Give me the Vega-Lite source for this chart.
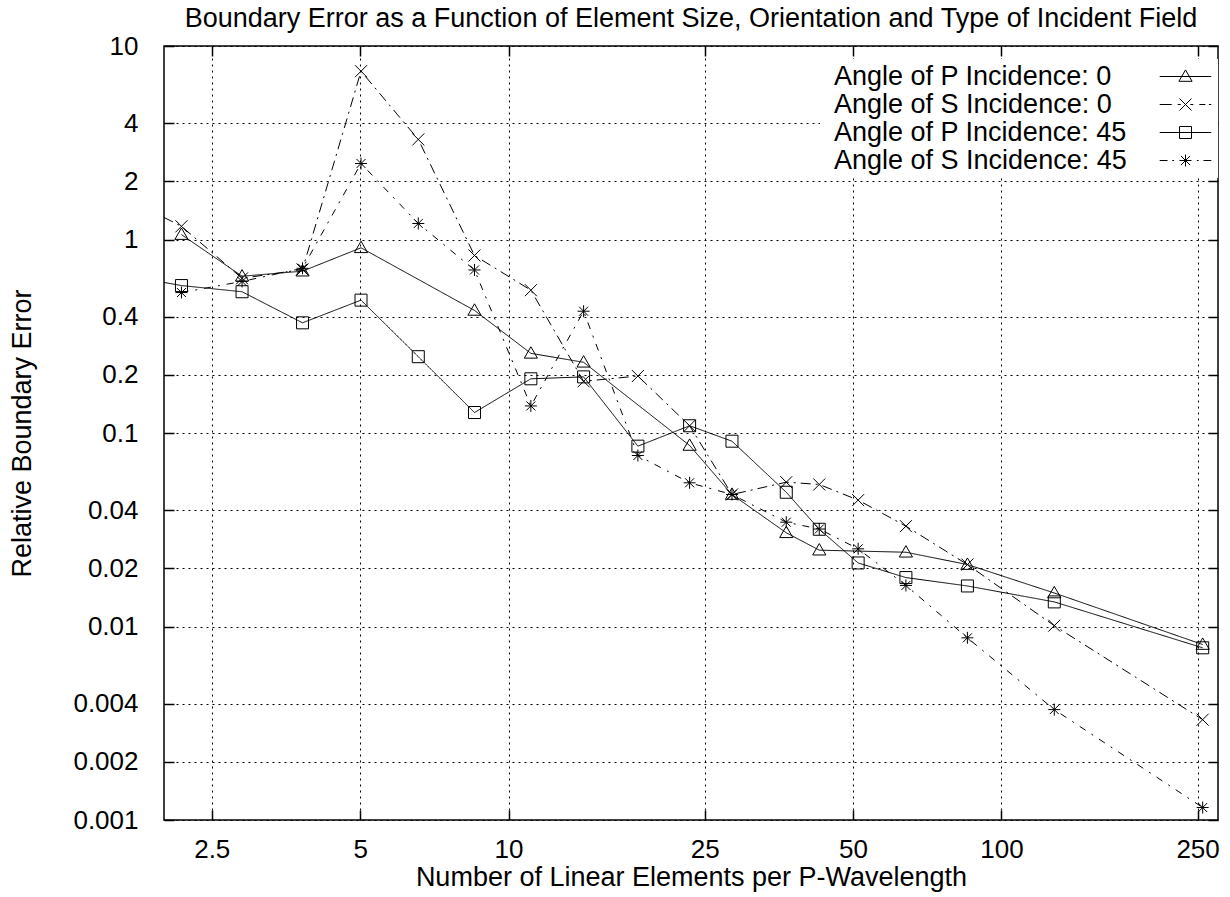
{
  "$schema": "https://vega.github.io/schema/vega-lite/v6.json",
  "width": 1054,
  "height": 774,
  "autosize": {"type": "none"},
  "padding": {"left": 164, "top": 46, "right": 12, "bottom": 77},
  "background": "white",
  "title": {
    "text": "Boundary Error as a Function of Element Size, Orientation and Type of Incident Field",
    "font": "Liberation Sans", "fontSize": 27, "fontWeight": "normal", "color": "black",
    "anchor": "middle", "frame": "group", "baseline": "alphabetic", "offset": 3, "dy": 24
  },
  "data": {"values": [
    {"s": "Angle of P Incidence: 0", "x": 2.17, "y": 1.06},
    {"s": "Angle of P Incidence: 0", "x": 2.88, "y": 0.646},
    {"s": "Angle of P Incidence: 0", "x": 3.82, "y": 0.686},
    {"s": "Angle of P Incidence: 0", "x": 5.02, "y": 0.906},
    {"s": "Angle of P Incidence: 0", "x": 8.53, "y": 0.43},
    {"s": "Angle of P Incidence: 0", "x": 11.1, "y": 0.258},
    {"s": "Angle of P Incidence: 0", "x": 14.2, "y": 0.232},
    {"s": "Angle of P Incidence: 0", "x": 23.3, "y": 0.0862},
    {"s": "Angle of P Incidence: 0", "x": 28.4, "y": 0.0481},
    {"s": "Angle of P Incidence: 0", "x": 36.6, "y": 0.0305},
    {"s": "Angle of P Incidence: 0", "x": 42.7, "y": 0.0248},
    {"s": "Angle of P Incidence: 0", "x": 64, "y": 0.0242},
    {"s": "Angle of P Incidence: 0", "x": 85.3, "y": 0.0209},
    {"s": "Angle of P Incidence: 0", "x": 128, "y": 0.0149},
    {"s": "Angle of P Incidence: 0", "x": 256, "y": 0.00807},
    {"s": "Angle of S Incidence: 0", "x": 2, "y": 1.3},
    {"s": "Angle of S Incidence: 0", "x": 2.17, "y": 1.17},
    {"s": "Angle of S Incidence: 0", "x": 2.88, "y": 0.63},
    {"s": "Angle of S Incidence: 0", "x": 3.82, "y": 0.7},
    {"s": "Angle of S Incidence: 0", "x": 5.02, "y": 7.41},
    {"s": "Angle of S Incidence: 0", "x": 6.56, "y": 3.29},
    {"s": "Angle of S Incidence: 0", "x": 8.53, "y": 0.827},
    {"s": "Angle of S Incidence: 0", "x": 11.1, "y": 0.547},
    {"s": "Angle of S Incidence: 0", "x": 14.2, "y": 0.185},
    {"s": "Angle of S Incidence: 0", "x": 18.3, "y": 0.197},
    {"s": "Angle of S Incidence: 0", "x": 23.3, "y": 0.109},
    {"s": "Angle of S Incidence: 0", "x": 28.4, "y": 0.0481},
    {"s": "Angle of S Incidence: 0", "x": 36.6, "y": 0.0557},
    {"s": "Angle of S Incidence: 0", "x": 42.7, "y": 0.0542},
    {"s": "Angle of S Incidence: 0", "x": 51.2, "y": 0.045},
    {"s": "Angle of S Incidence: 0", "x": 64, "y": 0.033},
    {"s": "Angle of S Incidence: 0", "x": 85.3, "y": 0.0209},
    {"s": "Angle of S Incidence: 0", "x": 128, "y": 0.0101},
    {"s": "Angle of S Incidence: 0", "x": 256, "y": 0.0033},
    {"s": "Angle of P Incidence: 45", "x": 2, "y": 0.6},
    {"s": "Angle of P Incidence: 45", "x": 2.17, "y": 0.578},
    {"s": "Angle of P Incidence: 45", "x": 2.88, "y": 0.537},
    {"s": "Angle of P Incidence: 45", "x": 3.82, "y": 0.371},
    {"s": "Angle of P Incidence: 45", "x": 5.02, "y": 0.486},
    {"s": "Angle of P Incidence: 45", "x": 6.56, "y": 0.248},
    {"s": "Angle of P Incidence: 45", "x": 8.53, "y": 0.1276},
    {"s": "Angle of P Incidence: 45", "x": 11.1, "y": 0.1906},
    {"s": "Angle of P Incidence: 45", "x": 14.2, "y": 0.195},
    {"s": "Angle of P Incidence: 45", "x": 18.3, "y": 0.0855},
    {"s": "Angle of P Incidence: 45", "x": 23.3, "y": 0.109},
    {"s": "Angle of P Incidence: 45", "x": 28.4, "y": 0.0907},
    {"s": "Angle of P Incidence: 45", "x": 36.6, "y": 0.0494},
    {"s": "Angle of P Incidence: 45", "x": 42.7, "y": 0.0318},
    {"s": "Angle of P Incidence: 45", "x": 51.2, "y": 0.0213},
    {"s": "Angle of P Incidence: 45", "x": 64, "y": 0.0179},
    {"s": "Angle of P Incidence: 45", "x": 85.3, "y": 0.0162},
    {"s": "Angle of P Incidence: 45", "x": 128, "y": 0.0134},
    {"s": "Angle of P Incidence: 45", "x": 256, "y": 0.00776},
    {"s": "Angle of S Incidence: 45", "x": 2.17, "y": 0.532},
    {"s": "Angle of S Incidence: 45", "x": 2.88, "y": 0.607},
    {"s": "Angle of S Incidence: 45", "x": 3.82, "y": 0.71},
    {"s": "Angle of S Incidence: 45", "x": 5.02, "y": 2.47},
    {"s": "Angle of S Incidence: 45", "x": 6.56, "y": 1.21},
    {"s": "Angle of S Incidence: 45", "x": 8.53, "y": 0.696},
    {"s": "Angle of S Incidence: 45", "x": 11.1, "y": 0.138},
    {"s": "Angle of S Incidence: 45", "x": 14.2, "y": 0.426},
    {"s": "Angle of S Incidence: 45", "x": 18.3, "y": 0.0765},
    {"s": "Angle of S Incidence: 45", "x": 23.3, "y": 0.0553},
    {"s": "Angle of S Incidence: 45", "x": 28.4, "y": 0.0481},
    {"s": "Angle of S Incidence: 45", "x": 36.6, "y": 0.0346},
    {"s": "Angle of S Incidence: 45", "x": 42.7, "y": 0.0319},
    {"s": "Angle of S Incidence: 45", "x": 51.2, "y": 0.0252},
    {"s": "Angle of S Incidence: 45", "x": 64, "y": 0.0163},
    {"s": "Angle of S Incidence: 45", "x": 85.3, "y": 0.00874},
    {"s": "Angle of S Incidence: 45", "x": 128, "y": 0.00372},
    {"s": "Angle of S Incidence: 45", "x": 256, "y": 0.00116}
  ]},
  "layer": [
    {
      "mark": {"type": "line", "color": "black", "strokeWidth": 1},
      "encoding": {
        "x": {
          "field": "x", "type": "quantitative",
          "scale": {"type": "log", "domain": [2, 275], "nice": false},
          "axis": {
            "orient": "bottom",
            "values": [2.5, 5, 10, 25, 50, 100, 250], "format": "~g",
            "title": "Number of Linear Elements per P-Wavelength",
            "labelPadding": 26, "titlePadding": 2
          }
        },
        "y": {
          "field": "y", "type": "quantitative",
          "scale": {"type": "log", "domain": [0.001, 10], "nice": false},
          "axis": {
            "orient": "left",
            "values": [0.001, 0.002, 0.004, 0.01, 0.02, 0.04, 0.1, 0.2, 0.4, 1, 2, 4, 10], "format": "~g",
            "title": "Relative Boundary Error",
            "labelPadding": 36, "titlePadding": 36
          }
        },
        "detail": {"field": "s"},
        "strokeDash": {
          "field": "s",
          "scale": {
            "domain": ["Angle of S Incidence: 0", "Angle of S Incidence: 45", "Angle of P Incidence: 0", "Angle of P Incidence: 45"],
            "range": [[10, 5, 2, 5], [7, 7, 2, 7], [1, 0], [1, 0]]
          },
          "legend": null
        }
      }
    },
    {
      "transform": [{"filter": "datum.x > 2.01"}],
      "mark": {"type": "point", "filled": false, "stroke": "black", "strokeWidth": 1, "size": 144, "opacity": 1},
      "encoding": {
        "x": {
          "field": "x", "type": "quantitative",
          "axis": {
            "orient": "top",
            "values": [2.5, 5, 10, 25, 50, 100, 250],
            "labels": false, "grid": false, "title": null
          }
        },
        "y": {
          "field": "y", "type": "quantitative",
          "axis": {
            "orient": "right",
            "values": [0.001, 0.002, 0.004, 0.01, 0.02, 0.04, 0.1, 0.2, 0.4, 1, 2, 4, 10],
            "labels": false, "grid": false, "title": null
          }
        },
        "shape": {
          "field": "s",
          "scale": {
            "domain": ["Angle of P Incidence: 45", "Angle of S Incidence: 45", "Angle of P Incidence: 0", "Angle of S Incidence: 0"],
            "range": [
              "M-1,-1H1V1H-1Z",
              "M-1,0H1M0,-1V1M-0.75,-0.75L0.75,0.75M-0.75,0.75L0.75,-0.75",
              "M0,-1.1L1.1,0.8L-1.1,0.8Z",
              "M-1,-1L1,1M-1,1L1,-1"
            ]
          },
          "legend": null
        }
      }
    },
    {
      "mark": {"type": "point", "filled": false, "stroke": "black", "strokeWidth": 1, "opacity": 0},
      "encoding": {
        "x": {"field": "x", "type": "quantitative", "axis": null},
        "y": {"field": "y", "type": "quantitative", "axis": null},
        "shape": {
          "field": "s",
          "scale": {
            "domain": ["Angle of P Incidence: 0", "Angle of S Incidence: 0", "Angle of P Incidence: 45", "Angle of S Incidence: 45"],
            "range": [
              "M-4.3,0H4.3M0,-1.1L1.1,0.8L-1.1,0.8Z",
              "M-4.3,0H-2.3M-1.3,0H-0.8M0.8,0H1.3M2.3,0H3.3M3.9,0H4.3M-1,-1L1,1M-1,1L1,-1",
              "M-4.3,0H4.3M-1,-1H1V1H-1Z",
              "M-4.3,0H-3M-2.2,0H-1.9M1.9,0H2.2M3,0H4.3M-1,0H1M0,-1V1M-0.75,-0.75L0.75,0.75M-0.75,0.75L0.75,-0.75"
            ]
          },
          "legend": {
            "title": null,
            "orient": "none",
            "legendX": 656,
            "legendY": 13,
            "padding": 4,
            "fillColor": "white",
            "labelAlign": "left",
            "labelOffset": -365,
            "symbolOffset": 348,
            "labelLimit": 500,
            "labelFont": "Liberation Sans",
            "labelFontSize": 27,
            "labelColor": "black",
            "rowPadding": 0,
            "symbolSize": 144,
            "symbolOpacity": 1,
            "symbolStrokeWidth": 1,
            "symbolStrokeColor": "black",
            "symbolFillColor": "transparent"
          }
        }
      }
    }
  ],
  "resolve": {
    "axis": {"x": "independent", "y": "independent"},
    "scale": {"shape": "independent"},
    "legend": {"shape": "independent"}
  },
  "config": {
    "view": {"stroke": "black", "strokeWidth": 1.5},
    "axis": {
      "labelFont": "Liberation Sans", "labelFontSize": 26, "labelColor": "black",
      "titleFont": "Liberation Sans", "titleFontSize": 27, "titleFontWeight": "normal", "titleColor": "black",
      "grid": true, "gridColor": "black", "gridDash": [2, 4], "gridWidth": 1, "gridOpacity": 1,
      "ticks": true, "tickSize": -10, "tickColor": "black", "tickWidth": 1.5,
      "domain": false, "labelOverlap": false, "labelFlush": false
    }
  }
}
